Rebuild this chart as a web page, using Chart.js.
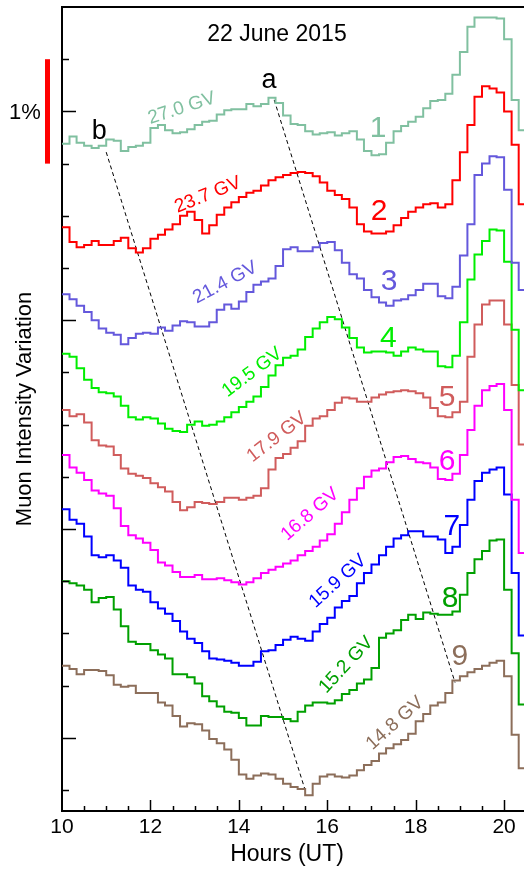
<!DOCTYPE html>
<html>
<head>
<meta charset="utf-8">
<script src="https://cdn.jsdelivr.net/npm/chart.js@4.4.1/dist/chart.umd.min.js"></script>
<style>
  html, body { margin: 0; padding: 0; background: #fff; }
  #wrap { width: 524px; height: 872px; position: relative; }
</style>
</head>
<body>
<div id="wrap"><canvas id="muonChart"></canvas></div>
<script>
// time bins (hours UT, 10-minute steps)
const hours = [10.00,10.17,10.33,10.50,10.67,10.83,11.00,11.17,11.33,11.50,11.67,11.83,12.00,12.17,12.33,12.50,12.67,12.83,13.00,13.17,13.33,13.50,13.67,13.83,14.00,14.17,14.33,14.50,14.67,14.83,15.00,15.17,15.33,15.50,15.67,15.83,16.00,16.17,16.33,16.50,16.67,16.83,17.00,17.17,17.33,17.50,17.67,17.83,18.00,18.17,18.33,18.50,18.67,18.83,19.00,19.17,19.33,19.50,19.67,19.83,20.00,20.17,20.33,20.50];

// intensity variation (%), curves shifted as in the plot
const rig270 = [5.69,5.76,5.70,5.67,5.65,5.67,5.73,5.72,5.62,5.66, 5.67,5.70,5.84,5.87,5.82,5.79,5.80,5.83,5.87,5.90, 5.91,5.97,6.01,6.02,6.02,6.07,6.05,6.07,6.13,6.08, 5.96,5.88,5.87,5.81,5.78,5.79,5.80,5.77,5.79,5.81, 5.73,5.62,5.58,5.59,5.70,5.81,5.86,5.90,5.95,6.03, 6.10,6.11,6.17,6.35,6.57,6.81,6.90,6.90,6.90,6.89, 6.69,6.11,5.82,5.82];
const rig237 = [4.89,4.75,4.70,4.72,4.76,4.72,4.72,4.76,4.79,4.69, 4.65,4.69,4.78,4.82,4.87,4.92,5.00,5.04,4.96,4.83, 4.91,5.01,5.08,5.13,5.18,5.22,5.24,5.29,5.34,5.37, 5.39,5.41,5.42,5.41,5.38,5.32,5.24,5.20,5.16,5.08, 4.92,4.85,4.83,4.83,4.85,4.91,4.98,5.04,5.08,5.11, 5.12,5.08,5.11,5.34,5.61,5.87,6.14,6.24,6.22,6.18, 6.00,5.68,5.11,5.11];
const rig214 = [4.25,4.20,4.14,4.08,4.00,3.92,3.88,3.86,3.77,3.83, 3.87,3.88,3.87,3.93,3.90,3.95,3.99,3.98,3.94,3.94, 3.98,4.10,4.15,4.11,4.18,4.27,4.34,4.37,4.40,4.52, 4.68,4.70,4.66,4.66,4.70,4.74,4.75,4.67,4.55,4.44, 4.40,4.29,4.22,4.17,4.14,4.19,4.20,4.24,4.29,4.35, 4.35,4.23,4.21,4.32,4.62,4.92,5.39,5.50,5.57,5.56, 5.25,4.55,4.29,4.29];
const rig195 = [3.68,3.65,3.54,3.43,3.35,3.31,3.30,3.27,3.18,3.07, 3.05,3.07,3.06,3.01,2.96,2.94,2.93,3.00,3.03,2.99, 3.00,3.03,3.07,3.12,3.17,3.22,3.27,3.36,3.47,3.57, 3.64,3.66,3.72,3.84,3.92,3.98,4.03,4.01,3.93,3.83, 3.74,3.69,3.70,3.70,3.69,3.66,3.70,3.74,3.72,3.70, 3.70,3.56,3.55,3.66,3.98,4.39,4.63,4.76,4.87,4.86, 4.56,3.91,3.33,3.33];
const rig179 = [3.14,3.08,3.10,3.02,2.85,2.80,2.79,2.71,2.58,2.53, 2.51,2.49,2.44,2.40,2.36,2.26,2.18,2.21,2.26,2.25, 2.24,2.26,2.30,2.30,2.28,2.30,2.32,2.39,2.57,2.68, 2.72,2.78,2.84,2.99,3.06,3.08,3.14,3.21,3.26,3.25, 3.22,3.22,3.26,3.29,3.31,3.32,3.33,3.32,3.30,3.26, 3.16,3.08,3.07,3.12,3.22,3.65,3.96,4.15,4.19,4.19, 3.96,3.38,2.81,2.81];
const rig168 = [2.71,2.59,2.54,2.47,2.37,2.34,2.32,2.20,2.03,1.94, 1.91,1.87,1.80,1.68,1.65,1.59,1.54,1.54,1.56,1.52, 1.52,1.53,1.51,1.49,1.47,1.49,1.53,1.58,1.61,1.64, 1.67,1.70,1.75,1.79,1.83,1.89,1.95,2.05,2.16,2.28, 2.39,2.50,2.56,2.58,2.64,2.69,2.70,2.67,2.64,2.63, 2.59,2.48,2.47,2.53,2.71,2.95,3.18,3.33,3.37,3.39, 3.14,2.28,1.77,1.77];
const rig159 = [2.19,2.09,2.05,1.93,1.75,1.73,1.75,1.70,1.63,1.46, 1.42,1.40,1.30,1.24,1.19,1.12,1.02,0.95,0.91,0.83, 0.76,0.75,0.74,0.72,0.69,0.69,0.73,0.83,0.84,0.89, 0.94,0.97,0.95,0.93,1.02,1.09,1.15,1.25,1.31,1.36, 1.48,1.58,1.66,1.75,1.83,1.91,1.94,1.98,1.98,1.93, 1.93,1.90,1.77,1.83,2.04,2.28,2.46,2.54,2.57,2.59, 2.33,1.58,0.98,0.98];
const rig152 = [1.50,1.48,1.46,1.42,1.30,1.34,1.35,1.23,1.07,0.92, 0.90,0.90,0.84,0.80,0.76,0.61,0.61,0.58,0.52,0.40, 0.35,0.30,0.25,0.24,0.19,0.12,0.12,0.21,0.20,0.20, 0.18,0.16,0.25,0.31,0.34,0.34,0.33,0.36,0.42,0.46, 0.52,0.56,0.67,0.96,1.00,1.03,1.13,1.18,1.14,1.20, 1.19,1.18,1.18,1.21,1.37,1.58,1.71,1.79,1.89,1.90, 1.42,0.81,0.32,0.32];
const rig148 = [0.69,0.66,0.61,0.65,0.65,0.64,0.60,0.51,0.49,0.50, 0.43,0.43,0.43,0.34,0.31,0.21,0.11,0.14,0.13,0.07, -0.01,-0.05,-0.11,-0.21,-0.35,-0.39,-0.36,-0.34,-0.35,-0.39, -0.44,-0.47,-0.49,-0.55,-0.44,-0.37,-0.35,-0.37,-0.38,-0.36, -0.31,-0.26,-0.22,-0.15,-0.10,-0.06,-0.02,0.04,0.16,0.23, 0.31,0.34,0.43,0.55,0.59,0.63,0.66,0.69,0.72,0.74, 0.59,0.03,-0.29,-0.29];

const seriesValues = [rig270, rig237, rig214, rig195, rig179, rig168, rig159, rig152, rig148];
const seriesNames = ['27.0 GV', '23.7 GV', '21.4 GV', '19.5 GV', '17.9 GV', '16.8 GV', '15.9 GV', '15.2 GV', '14.8 GV'];
const seriesNums = ['1', '2', '3', '4', '5', '6', '7', '8', '9'];

// dashed guide lines a and b (hours, %)
const lineA = [{ x: 14.80, y: 6.11 }, { x: 18.89, y: 0.53 }];
const lineB = [{ x: 11.00, y: 5.61 }, { x: 15.50, y: -0.50 }];

// axis ticks
const xTickLabels = [10, 12, 14, 16, 18, 20];
const xTicks = [10.5, 11, 11.5, 12, 12.5, 13, 13.5, 14, 14.5, 15, 15.5, 16, 16.5, 17, 17.5, 18, 18.5, 19, 19.5, 20];
const yTicks = [-0.5, 0, 0.5, 1, 1.5, 2, 2.5, 3, 3.5, 4, 4.5, 5, 5.5, 6, 6.5];

// styling / placement
const colors = ['#80c0a0', '#ff0000', '#6458dc', '#00ee00', '#d05c5c', '#ff00ff', '#0000ff', '#00a000', '#8c6e5a'];
const gvLabelPos = [[12.71, 6.03, -18], [13.30, 5.20, -22], [13.69, 4.36, -28], [14.30, 3.50, -37], [14.86, 2.88, -38],
                    [15.61, 2.14, -41], [16.24, 1.50, -42], [16.43, 0.70, -47], [17.53, 0.14, -42]];
const numLabelPos = [[17.15, 5.84], [17.17, 5.05], [17.40, 4.38], [17.38, 3.83], [18.71, 3.27],
                     [18.71, 2.65], [18.82, 2.03], [18.78, 1.34], [19.00, 0.79]];
const FONT = "'Liberation Sans', Arial, Helvetica, sans-serif";

const datasets = seriesValues.map((vals, i) => ({
    label: seriesNames[i],
    data: vals.map((v, k) => ({ x: hours[k], y: v })),
    borderColor: colors[i],
    borderWidth: 2,
    stepped: true,
    pointRadius: 0,
    fill: false
}));
[lineA, lineB].forEach(pts => datasets.push({
    data: pts,
    borderColor: '#000',
    borderWidth: 1,
    borderDash: [4, 3],
    pointRadius: 0,
    fill: false
}));

const decorations = {
    id: 'decorations',
    afterDraw(chart) {
        const { ctx, chartArea: ca, scales: { x, y } } = chart;
        ctx.save();
        ctx.strokeStyle = '#000';

        // top frame
        ctx.lineWidth = 2;
        ctx.beginPath();
        ctx.moveTo(ca.left - 1, ca.top);
        ctx.lineTo(ca.right, ca.top);
        ctx.stroke();

        // inward ticks
        ctx.lineWidth = 1.5;
        yTicks.forEach(v => {
            const py = Math.round(y.getPixelForValue(v)) + 0.5;
            const len = v % 2 === 0 ? 14 : 7;
            ctx.beginPath();
            ctx.moveTo(ca.left, py);
            ctx.lineTo(ca.left + len, py);
            ctx.stroke();
        });
        xTicks.forEach(v => {
            const px = Math.round(x.getPixelForValue(v)) + 0.5;
            const len = v % 2 === 0 ? 11 : 5;
            ctx.beginPath();
            ctx.moveTo(px, ca.bottom);
            ctx.lineTo(px, ca.bottom - len);
            ctx.stroke();
        });

        // x tick labels
        ctx.fillStyle = '#000';
        ctx.font = '21px ' + FONT;
        ctx.textAlign = 'center';
        ctx.textBaseline = 'top';
        xTickLabels.forEach(v => ctx.fillText(String(v), x.getPixelForValue(v), ca.bottom + 6));

        // axis titles
        ctx.textBaseline = 'middle';
        ctx.font = '23px ' + FONT;
        ctx.fillText('Hours (UT)', 287, 855);
        ctx.font = '22px ' + FONT;
        ctx.save();
        ctx.translate(25, (ca.top + ca.bottom) / 2);
        ctx.rotate(-Math.PI / 2);
        ctx.fillText('Muon Intensity Variation', 0, 0);
        ctx.restore();

        // 1% scale bar
        ctx.fillStyle = '#ff0000';
        const yTop = y.getPixelForValue(6.5), yBot = y.getPixelForValue(5.5);
        ctx.fillRect(45, yTop, 5, yBot - yTop);
        ctx.fillStyle = '#000';
        ctx.fillText('1%', 25, (yTop + yBot) / 2 + 2);

        // plot title
        ctx.font = '23px ' + FONT;
        ctx.fillText('22 June 2015', 277, 35);

        // a / b markers
        ctx.font = '27px ' + FONT;
        ctx.fillText('a', x.getPixelForValue(14.68), y.getPixelForValue(6.30));
        ctx.fillText('b', x.getPixelForValue(10.84), y.getPixelForValue(5.81));

        // rigidity labels and curve numbers
        seriesNames.forEach((name, i) => {
            const [hx, hy, ang] = gvLabelPos[i];
            ctx.save();
            ctx.fillStyle = colors[i];
            ctx.font = '19px ' + FONT;
            ctx.translate(x.getPixelForValue(hx), y.getPixelForValue(hy));
            ctx.rotate(ang * Math.PI / 180);
            ctx.fillText(name, 0, 0);
            ctx.restore();

            const [nx, ny] = numLabelPos[i];
            ctx.fillStyle = colors[i];
            ctx.font = '30px ' + FONT;
            ctx.fillText(seriesNums[i], x.getPixelForValue(nx), y.getPixelForValue(ny) + 1);
        });
        ctx.restore();
    }
};

new Chart(document.getElementById('muonChart'), {
    type: 'line',
    data: { datasets },
    options: {
        responsive: true,
        maintainAspectRatio: false,
        animation: false,
        layout: { padding: { top: 7, right: 0, bottom: 0, left: 0 } },
        plugins: { legend: { display: false }, tooltip: { enabled: false } },
        scales: {
            x: {
                type: 'linear', min: 10, max: 20.45,
                ticks: { display: false },
                grid: { display: false, drawTicks: false },
                border: { display: true, color: '#000', width: 2 },
                afterFit(scale) { scale.height = 61; }
            },
            y: {
                type: 'linear', min: -0.7, max: 7.0,
                ticks: { display: false },
                grid: { display: false, drawTicks: false },
                border: { display: true, color: '#000', width: 2 },
                afterFit(scale) { scale.width = 62; }
            }
        }
    },
    plugins: [decorations]
});
</script>
</body>
</html>
